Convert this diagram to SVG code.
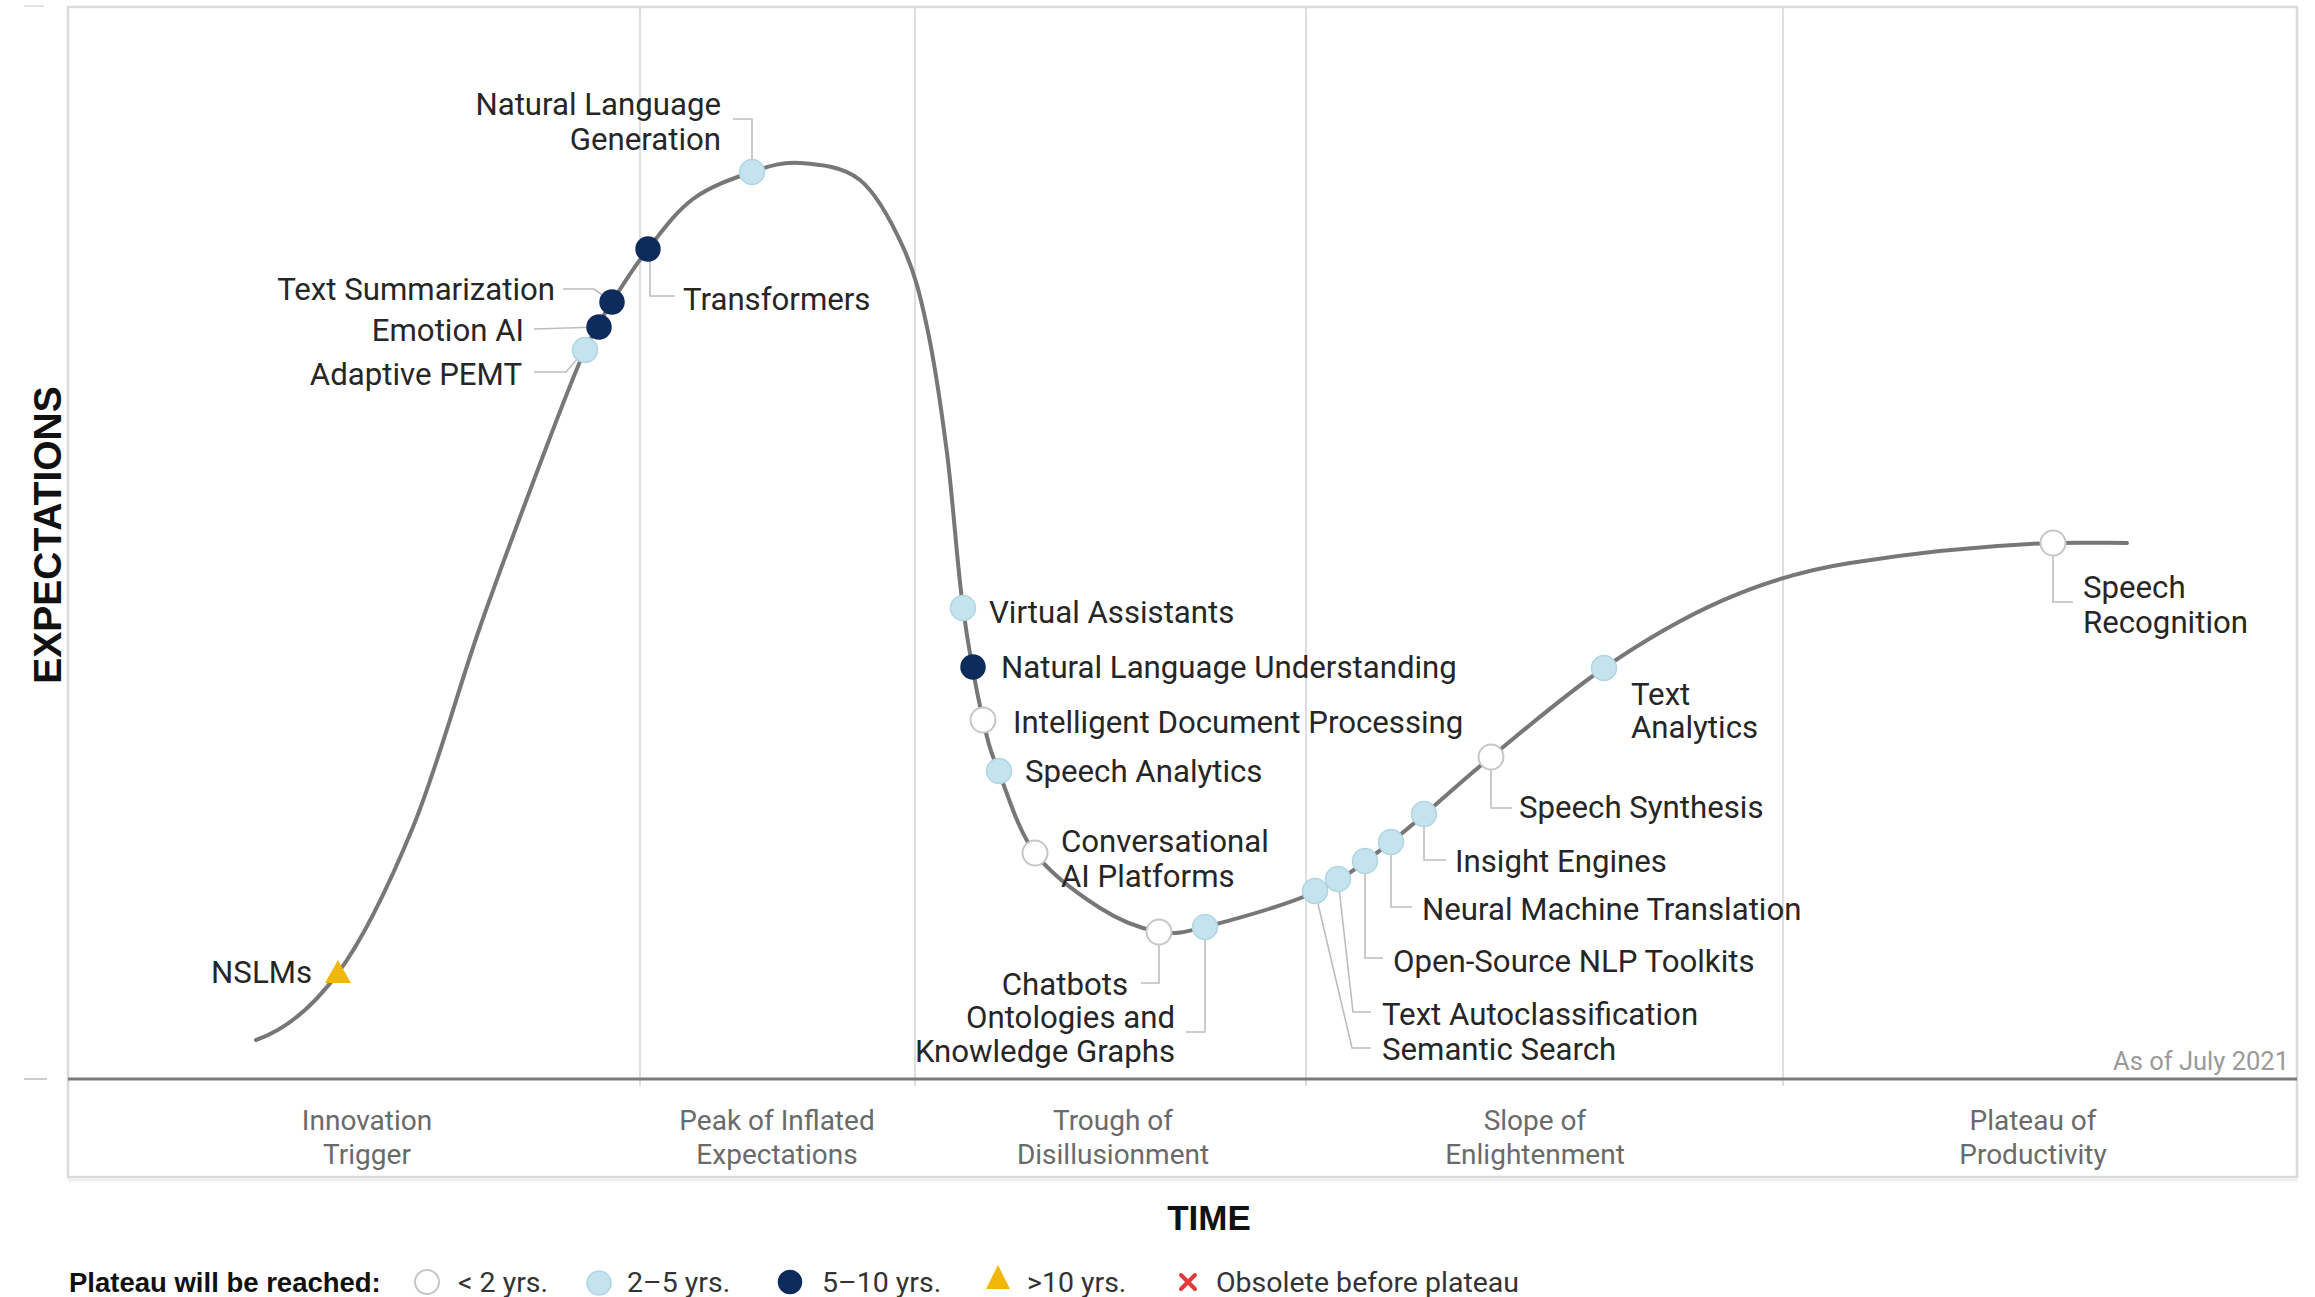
<svg xmlns="http://www.w3.org/2000/svg" width="2315" height="1297" viewBox="0 0 2315 1297">
<defs>
<style>
.lbl{font-family:Roboto,"Liberation Sans",Arial,sans-serif;font-size:31.2px;fill:#262626}
.band{font-family:Roboto,"Liberation Sans",Arial,sans-serif;font-size:28px;fill:#6a6a6a;text-anchor:middle}
.leg{font-family:Roboto,"Liberation Sans",Arial,sans-serif;font-size:28.5px;fill:#333}
.ax{font-family:"Liberation Sans",Arial,sans-serif;font-weight:bold;fill:#111}
.end{text-anchor:end}
.lead{fill:none;stroke:#bdbdbd;stroke-width:1.6}
.d-l{fill:#c4e3ee;stroke:#b0d6e4;stroke-width:1.5}
.d-n{fill:#0d2b5c;stroke:#0d2b5c;stroke-width:1.5}
.d-w{fill:#ffffff;stroke:#c6c6c6;stroke-width:2}
.div{stroke:#dedede;stroke-width:2}
</style>
</defs>
<rect width="2315" height="1297" fill="#ffffff"/>

<g id="frame">
<rect x="68" y="7" width="2229" height="1170" fill="none" stroke="#dadada" stroke-width="2.5"/>
<line x1="68" y1="1180" x2="2297" y2="1180" stroke="#eeeeee" stroke-width="3"/>
<line class="div" x1="640" y1="7" x2="640" y2="1086"/>
<line class="div" x1="915" y1="7" x2="915" y2="1086"/>
<line class="div" x1="1306" y1="7" x2="1306" y2="1086"/>
<line class="div" x1="1783" y1="7" x2="1783" y2="1086"/>
<line x1="68" y1="1079" x2="2297" y2="1079" stroke="#7a7a7a" stroke-width="3"/>
<line x1="24" y1="1079" x2="47" y2="1079" stroke="#cccccc" stroke-width="2"/>
<line x1="24" y1="6" x2="44" y2="6" stroke="#e4e4e4" stroke-width="2"/>
</g>

<g id="band-labels">
<text class="band" x="367" y="1130">Innovation</text>
<text class="band" x="367" y="1164">Trigger</text>
<text class="band" x="777" y="1130">Peak of Inflated</text>
<text class="band" x="777" y="1164">Expectations</text>
<text class="band" x="1113" y="1130">Trough of</text>
<text class="band" x="1113" y="1164">Disillusionment</text>
<text class="band" x="1535" y="1130">Slope of</text>
<text class="band" x="1535" y="1164">Enlightenment</text>
<text class="band" x="2033" y="1130">Plateau of</text>
<text class="band" x="2033" y="1164">Productivity</text>
<text x="2289" y="1070" text-anchor="end" font-family="Roboto,'Liberation Sans',Arial,sans-serif" font-size="25.5" fill="#9a9a9a">As of July 2021</text>
</g>

<g id="axes">
<text class="ax" x="1209" y="1230" font-size="35" text-anchor="middle">TIME</text>
<text class="ax" transform="translate(61,535) rotate(-90)" font-size="39" text-anchor="middle">EXPECTATIONS</text>
</g>

<g id="hype-curve">
<path fill="none" stroke="#777777" stroke-width="4" stroke-linecap="round" d="M256,1040 C285,1030 311.8,1008.5 338,973 C364.2,937.5 389.3,884.7 413,827 C436.7,769.3 457.8,690.2 480,627 C502.2,563.8 528.5,494.2 546,448 C563.5,401.8 574,374.3 585,350 C596,325.7 601.5,318.8 612,302 C622.5,285.2 634.5,266.2 648,249 C661.5,231.8 675.7,211.8 693,199 C710.3,186.2 734.2,178 752,172 C769.8,166 782,161.7 800,163 C818,164.3 842.8,166 860,180 C877.2,194 891.8,222.5 903,247 C914.2,271.5 919.7,292.7 927,327 C934.3,361.3 941,406.2 947,453 C953,499.8 957,563.5 963,608 C969,652.5 976.8,692.2 983,720 C989.2,747.8 991.3,752.8 1000,775 C1008.7,797.2 1018.3,830.8 1035,853 C1051.7,875.2 1079.3,894.8 1100,908 C1120.7,921.2 1141.5,928.8 1159,932 C1176.5,935.2 1189.4,931 1205,927 C1231,920.3 1284,906.2 1315,892 C1346,877.8 1361.7,864.5 1391,842 C1420.3,819.5 1455.5,786 1491,757 C1526.5,728 1565.8,694.2 1604,668 C1684,613 1760,577 1850,563 C1920,552 1993,545 2053,543 C2078,542.3 2110,543 2127,543"/>
</g>

<g id="connectors">
<polyline class="lead" points="752,160 752,119 733,119"/>
<polyline class="lead" points="563,289 594,289 612,302"/>
<polyline class="lead" points="534,329 599,327"/>
<polyline class="lead" points="534,372 566,372 585,350"/>
<polyline class="lead" points="650,249 650,296 675,296"/>
<polyline class="lead" points="1159,932 1159,983 1141,983"/>
<polyline class="lead" points="1205,927 1205,1032 1186,1032"/>
<polyline class="lead" points="1315,891 1352,1048 1371,1048"/>
<polyline class="lead" points="1338,879 1353,1012 1371,1012"/>
<polyline class="lead" points="1365,861 1365,958 1383,958"/>
<polyline class="lead" points="1391,842 1391,907 1412,907"/>
<polyline class="lead" points="1424,814 1424,860 1446,860"/>
<polyline class="lead" points="1491,757 1491,808 1512,808"/>
<polyline class="lead" points="2053,543 2053,602 2073,602"/>
</g>

<g id="node-nlg"><circle class="d-l" cx="752" cy="172" r="12.5"/><text class="lbl end" x="721" y="115">Natural Language</text><text class="lbl end" x="721" y="150">Generation</text></g>
<g id="node-transformers"><circle class="d-n" cx="648" cy="249" r="12"/><text class="lbl" x="683" y="310">Transformers</text></g>
<g id="node-text-summarization"><circle class="d-n" cx="612" cy="302" r="12"/><text class="lbl end" x="555" y="300">Text Summarization</text></g>
<g id="node-emotion-ai"><circle class="d-n" cx="599" cy="327" r="12"/><text class="lbl end" x="524" y="341">Emotion AI</text></g>
<g id="node-adaptive-pemt"><circle class="d-l" cx="585" cy="350" r="12.5"/><text class="lbl end" x="522" y="385">Adaptive PEMT</text></g>
<g id="node-nslms"><polygon points="338,960 351,983 325,983" fill="#f2b705"/><text class="lbl end" x="312" y="983">NSLMs</text></g>
<g id="node-virtual-assistants"><circle class="d-l" cx="963" cy="608" r="12.5"/><text class="lbl" x="989" y="623">Virtual Assistants</text></g>
<g id="node-nlu"><circle class="d-n" cx="973" cy="667" r="12"/><text class="lbl" x="1001" y="678">Natural Language Understanding</text></g>
<g id="node-idp"><circle class="d-w" cx="983" cy="720" r="12.5"/><text class="lbl" x="1013" y="733">Intelligent Document Processing</text></g>
<g id="node-speech-analytics"><circle class="d-l" cx="999" cy="771" r="12.5"/><text class="lbl" x="1025" y="782">Speech Analytics</text></g>
<g id="node-conversational-ai"><circle class="d-w" cx="1035" cy="853" r="12.5"/><text class="lbl" x="1061" y="852">Conversational</text><text class="lbl" x="1061" y="887">AI Platforms</text></g>
<g id="node-chatbots"><circle class="d-w" cx="1159" cy="932" r="12.5"/><text class="lbl end" x="1128" y="995">Chatbots</text></g>
<g id="node-ontologies"><circle class="d-l" cx="1205" cy="927" r="12.5"/><text class="lbl end" x="1175" y="1028">Ontologies and</text><text class="lbl end" x="1175" y="1062">Knowledge Graphs</text></g>
<g id="node-semantic-search"><circle class="d-l" cx="1315" cy="891" r="12.5"/><text class="lbl" x="1382" y="1060">Semantic Search</text></g>
<g id="node-text-autoclassification"><circle class="d-l" cx="1338" cy="879" r="12.5"/><text class="lbl" x="1382" y="1025">Text Autoclassification</text></g>
<g id="node-open-source-nlp"><circle class="d-l" cx="1365" cy="861" r="12.5"/><text class="lbl" x="1393" y="972">Open-Source NLP Toolkits</text></g>
<g id="node-nmt"><circle class="d-l" cx="1391" cy="842" r="12.5"/><text class="lbl" x="1422" y="920">Neural Machine Translation</text></g>
<g id="node-insight-engines"><circle class="d-l" cx="1424" cy="814" r="12.5"/><text class="lbl" x="1455" y="872">Insight Engines</text></g>
<g id="node-speech-synthesis"><circle class="d-w" cx="1491" cy="757" r="12.5"/><text class="lbl" x="1519" y="818">Speech Synthesis</text></g>
<g id="node-text-analytics"><circle class="d-l" cx="1604" cy="668" r="12.5"/><text class="lbl" x="1631" y="705">Text</text><text class="lbl" x="1631" y="738">Analytics</text></g>
<g id="node-speech-recognition"><circle class="d-w" cx="2053" cy="543" r="12.5"/><text class="lbl" x="2083" y="598">Speech</text><text class="lbl" x="2083" y="633">Recognition</text></g>

<g id="legend">
<text class="ax" x="69" y="1292" font-size="27.5">Plateau will be reached:</text>
<circle class="d-w" cx="427" cy="1282" r="12"/>
<text class="leg" x="458" y="1292">&lt; 2 yrs.</text>
<circle class="d-l" cx="599" cy="1283" r="12"/>
<text class="leg" x="627" y="1292">2–5 yrs.</text>
<circle class="d-n" cx="790" cy="1282" r="11.5"/>
<text class="leg" x="822" y="1292">5–10 yrs.</text>
<polygon points="998,1265 1010,1289 986,1289" fill="#f2b705"/>
<text class="leg" x="1027" y="1292">&gt;10 yrs.</text>
<g stroke="#e03a3a" stroke-width="4" stroke-linecap="round"><line x1="1181" y1="1275" x2="1195" y2="1289"/><line x1="1195" y1="1275" x2="1181" y2="1289"/></g>
<text class="leg" x="1216" y="1292">Obsolete before plateau</text>
</g>
</svg>
